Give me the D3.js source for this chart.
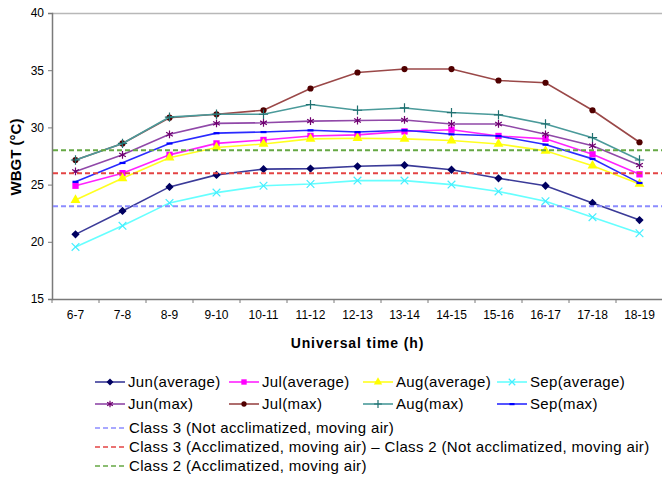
<!DOCTYPE html>
<html>
<head>
<meta charset="utf-8">
<script src="https://cdn.jsdelivr.net/npm/d3@7"></script>
<style>
  html, body { margin: 0; padding: 0; background: #fff; }
  svg { display: block; font-family: "Liberation Sans", Arial, sans-serif; }
</style>
</head>
<body>
<svg id="chart" width="662" height="479"></svg>
<script>
// ---- data ----
const categories = ["6-7","7-8","8-9","9-10","10-11","11-12","12-13","13-14","14-15","15-16","16-17","17-18","18-19"];
const junAvg = [20.65, 22.7, 24.8, 25.85, 26.35, 26.4, 26.6, 26.7, 26.3, 25.55, 24.9, 23.4, 21.9];
const julAvg = [24.9, 26.0, 27.6, 28.6, 28.9, 29.25, 29.35, 29.65, 29.8, 29.25, 29.0, 27.65, 25.9];
const augAvg = [23.65, 25.55, 27.35, 28.25, 28.55, 29.0, 29.05, 29.0, 28.85, 28.55, 27.95, 26.65, 25.05];
const sepAvg = [19.55, 21.4, 23.4, 24.3, 24.9, 25.05, 25.35, 25.35, 25.0, 24.4, 23.55, 22.15, 20.75];
const junMax = [26.15, 27.6, 29.4, 30.35, 30.4, 30.55, 30.6, 30.65, 30.3, 30.3, 29.4, 28.4, 26.7];
const julMax = [27.15, 28.6, 30.85, 31.15, 31.5, 33.4, 34.8, 35.1, 35.1, 34.1, 33.9, 31.5, 28.7];
const augMax = [27.15, 28.6, 30.9, 31.15, 31.15, 32.0, 31.5, 31.7, 31.3, 31.1, 30.3, 29.1, 27.15];
const sepMax = [25.25, 26.9, 28.6, 29.5, 29.6, 29.75, 29.6, 29.75, 29.4, 29.25, 28.5, 27.25, 25.15];
const seriesNames = ["Jun(average)","Jul(average)","Aug(average)","Sep(average)","Jun(max)","Jul(max)","Aug(max)","Sep(max)"];
const thresholdValues = [23.1, 26, 28];
const thresholdNames = ["Class 3 (Not acclimatized, moving air)",
  "Class 3 (Acclimatized, moving air) \u2013 Class 2 (Not acclimatized, moving air)",
  "Class 2 (Acclimatized, moving air)"];
const yTicks = [15, 20, 25, 30, 35, 40];

// ---- styles ----
const styles = [
  {line:"#3a3a98", fill:"#000060", marker:"diamond"},
  {line:"#ff22ff", fill:"#ff00ff", marker:"square"},
  {line:"#ffff20", fill:"#ffff00", marker:"triangle"},
  {line:"#66ffff", fill:"#44eeff", marker:"times"},
  {line:"#9048a8", fill:"#700070", marker:"asterisk"},
  {line:"#9a4848", fill:"#500000", marker:"circle"},
  {line:"#4a9a9a", fill:"#207070", marker:"plus"},
  {line:"#2a2aff", fill:"#0000ff", marker:"dash"}
];
const thresholdColors = ["#8c8cff", "#e44444", "#66a844"];
const seriesData = [junAvg, julAvg, augAvg, sepAvg, junMax, julMax, augMax, sepMax];

const svg = d3.select("#chart");
const W = 662;
const mLeft = 52, mRight = 663, mTop = 13, mBottom = 299;

const x = d3.scaleBand().domain(categories).range([mLeft, mRight]).padding(0);
const y = d3.scaleLinear().domain([15, 40]).range([mBottom, mTop]);
const cx = c => x(c) + x.bandwidth() / 2;

// plot area border (top)
svg.append("line").attr("x1", mLeft).attr("x2", W).attr("y1", mTop + 0.5).attr("y2", mTop + 0.5)
  .attr("stroke", "#b8b8b8").attr("stroke-width", 1.5);

// y axis
const yAxis = svg.append("g").attr("transform", `translate(${mLeft},0)`)
  .call(d3.axisLeft(y).tickValues(yTicks).tickSize(4).tickPadding(4));
yAxis.select(".domain").attr("stroke", "#7a7a7a").attr("stroke-width", 1.5);
yAxis.selectAll(".tick line").attr("stroke", "#7a7a7a");
yAxis.selectAll(".tick text").attr("font-size", 12).attr("fill", "#000")
  .attr("font-family", "'Liberation Sans', Arial, sans-serif");

// x axis
const xAxis = svg.append("g").attr("transform", `translate(0,${mBottom})`)
  .call(d3.axisBottom(x).tickSize(0).tickPadding(11));
xAxis.select(".domain").attr("stroke", "#7a7a7a").attr("stroke-width", 1.5);
xAxis.selectAll(".tick text").attr("font-size", 12).attr("fill", "#000")
  .attr("font-family", "'Liberation Sans', Arial, sans-serif");
xAxis.selectAll(".bound").data(categories).enter().append("line")
  .attr("x1", d => x(d)).attr("x2", d => x(d)).attr("y1", 0).attr("y2", 4)
  .attr("stroke", "#7a7a7a");

// axis titles
svg.append("text").attr("x", (mLeft + mRight) / 2).attr("y", 348).attr("text-anchor", "middle")
  .attr("font-size", 14).attr("font-weight", "bold").attr("letter-spacing", "0.9px")
  .text("Universal time (h)");
svg.append("text").attr("transform", "translate(21,157) rotate(-90)").attr("text-anchor", "middle")
  .attr("font-size", 15).attr("font-weight", "bold").text("WBGT (\u00B0C)");

// markers
function drawMarker(g, type, st, px, py, s) {
  s = s || 1;
  if (type === "dash") {
    g.append("rect").attr("x", px - 3 * s).attr("y", py - 1).attr("width", 6 * s).attr("height", 2.2).attr("fill", st.fill);
    return;
  }
  const map = {
    diamond: [d3.symbolDiamond2 || d3.symbolDiamond, 44, true],
    square: [d3.symbolSquare, 40, true],
    triangle: [d3.symbolTriangle, 42, true],
    circle: [d3.symbolCircle, 30, true],
    times: [d3.symbolTimes || d3.symbolCross, 40, false],
    plus: [d3.symbolPlus || d3.symbolCross, 30, false],
    asterisk: [d3.symbolAsterisk || d3.symbolStar, 42, false]
  };
  const m = map[type];
  const p = g.append("path").attr("d", d3.symbol().type(m[0]).size(m[1] * s * s)())
    .attr("transform", `translate(${px},${py})`);
  if (m[2]) p.attr("fill", st.fill).attr("stroke", "none");
  else p.attr("fill", "none").attr("stroke", st.fill).attr("stroke-width", 1.2);
}

const line = d3.line().x((d, i) => cx(categories[i])).y(d => y(d));
const plot = svg.append("g");
seriesData.forEach((vals, si) => {
  const st = styles[si];
  const g = plot.append("g");
  g.append("path").datum(vals).attr("d", line).attr("fill", "none")
    .attr("stroke", st.line).attr("stroke-width", 1.6);
  vals.forEach((v, i) => drawMarker(g, st.marker, st, cx(categories[i]), y(v)));
});

// threshold lines
thresholdValues.forEach((v, i) => {
  svg.append("line").attr("x1", mLeft + 1).attr("x2", W).attr("y1", y(v)).attr("y2", y(v))
    .attr("stroke", thresholdColors[i]).attr("stroke-width", 2).attr("stroke-dasharray", "5,3");
});

// legend
const legCols = [95, 229, 363, 497];
const legRows = [382, 404];
const legend = svg.append("g").attr("font-size", 15).attr("letter-spacing", "0.35px").attr("fill", "#000");
seriesNames.forEach((name, i) => {
  const lx = legCols[i % 4], ly = legRows[Math.floor(i / 4)];
  const st = styles[i];
  legend.append("line").attr("x1", lx).attr("x2", lx + 30).attr("y1", ly).attr("y2", ly)
    .attr("stroke", st.line).attr("stroke-width", 1.6);
  drawMarker(legend, st.marker, st, lx + 15, ly, 0.85);
  legend.append("text").attr("x", lx + 33).attr("y", ly + 5).text(name);
});
const thRows = [428, 447, 466];
thresholdNames.forEach((name, i) => {
  const ly = thRows[i];
  legend.append("line").attr("x1", 95).attr("x2", 125).attr("y1", ly).attr("y2", ly)
    .attr("stroke", thresholdColors[i]).attr("stroke-width", 1.5).attr("stroke-dasharray", "5,3");
  legend.append("text").attr("x", 129).attr("y", ly + 5).text(name);
});
</script>
</body>
</html>
